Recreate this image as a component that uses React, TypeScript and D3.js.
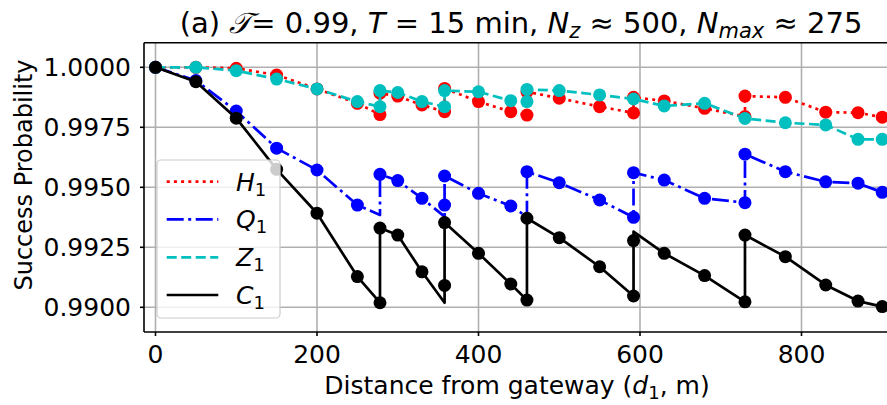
import React from "react";
import * as d3 from "d3";

// [distance d1 (m), success probability, 1 = marker drawn / 0 = line vertex only]
const h1Points: [number, number, number][] = [
  [0, 1.0, 1], [50, 1.0, 1], [100, 0.99996, 1], [150, 0.99968, 1], [200, 0.9991, 1],
  [250, 0.9985, 1], [278, 0.99803, 1], [278, 0.99892, 1], [300, 0.9988, 1], [330, 0.99843, 1],
  [358, 0.99815, 1], [358, 0.99912, 1], [400, 0.99857, 1], [440, 0.99815, 1], [460, 0.99801, 1],
  [460, 0.99898, 1], [500, 0.99871, 1], [550, 0.99836, 1], [592, 0.9981, 1], [592, 0.99875, 1],
  [630, 0.9986, 1], [680, 0.99829, 1], [730, 0.99795, 1], [730, 0.9988, 1], [780, 0.99875, 1],
  [830, 0.99813, 1], [870, 0.99811, 1], [900, 0.99792, 1],
];
const q1Points: [number, number, number][] = [
  [0, 1.0, 1], [50, 0.99945, 1], [100, 0.99818, 1], [150, 0.99663, 1], [200, 0.99572, 1],
  [250, 0.99426, 1], [278, 0.99385, 0], [278, 0.99554, 1], [300, 0.99528, 1], [330, 0.99454, 1],
  [358, 0.99378, 0], [358, 0.99426, 1], [358, 0.99547, 1], [400, 0.99475, 1], [440, 0.99422, 1],
  [460, 0.99378, 0], [460, 0.99565, 1], [500, 0.99519, 1], [550, 0.99447, 1], [592, 0.99375, 1],
  [592, 0.99561, 1], [630, 0.9953, 1], [680, 0.99454, 1], [730, 0.99436, 1], [730, 0.99638, 1],
  [780, 0.99565, 1], [830, 0.99523, 1], [870, 0.99517, 1], [900, 0.99479, 1],
];
const z1Points: [number, number, number][] = [
  [0, 1.0, 1], [50, 1.0, 1], [100, 0.99986, 1], [150, 0.99951, 1], [200, 0.9991, 1],
  [250, 0.99857, 1], [278, 0.99836, 1], [278, 0.99903, 1], [300, 0.99895, 1], [330, 0.99857, 1],
  [358, 0.99836, 1], [358, 0.99903, 1], [400, 0.99898, 1], [440, 0.99861, 1], [460, 0.99857, 1],
  [460, 0.99908, 1], [500, 0.99903, 1], [550, 0.99885, 1], [592, 0.99868, 1], [630, 0.99839, 1],
  [680, 0.9985, 1], [730, 0.99787, 1], [780, 0.99769, 1], [830, 0.9976, 1], [870, 0.997, 1],
  [900, 0.997, 1],
];
const c1Points: [number, number, number][] = [
  [0, 1.0, 1], [50, 0.9994, 1], [100, 0.99788, 1], [150, 0.99575, 1], [200, 0.99392, 1],
  [250, 0.99128, 1], [278, 0.99019, 1], [278, 0.9933, 1], [300, 0.99301, 1], [330, 0.99148, 1],
  [358, 0.99019, 0], [358, 0.99091, 1], [358, 0.99353, 1], [400, 0.99225, 1], [440, 0.99097, 1],
  [460, 0.9903, 1], [460, 0.99371, 1], [500, 0.9929, 1], [550, 0.99169, 1], [592, 0.99047, 1],
  [592, 0.99278, 1], [592, 0.99315, 0], [630, 0.99225, 1], [680, 0.99132, 1], [730, 0.99023, 1],
  [730, 0.99301, 1], [780, 0.99211, 1], [830, 0.99093, 1], [870, 0.99026, 1], [900, 0.99003, 1],
];

const seriesLetters = ["H", "Q", "Z", "C"];
const xTicks = [0, 200, 400, 600, 800];
const yTicks = [0.99, 0.9925, 0.995, 0.9975, 1.0];

const FONT = "DejaVu Sans";

export default function App() {
  const W = 887, H = 405;
  const left = 144, right = 887, top = 42.7, bottom = 332;
  const x = d3.scaleLinear().domain([0, 900]).range([155.5, 882.25]);
  const y = d3.scaleLinear().domain([0.99, 1.0]).range([307.3, 67.3]);
  const line = d3.line<[number, number, number]>().x((d) => x(d[0])).y((d) => y(d[1]));

  const series = [
    { pts: h1Points, color: "#ff0000", dash: "3,4.2", lw: 2.7 },
    { pts: q1Points, color: "#0000ff", dash: "17,4.5,3,4.5", lw: 2.7 },
    { pts: z1Points, color: "#00bfbf", dash: "10,4.5", lw: 2.7 },
    { pts: c1Points, color: "#000000", dash: "none", lw: 2.7 },
  ];

  const legendY = [181.7, 219.3, 257.3, 295];
  const FS = 25;

  return (
    <svg width={W} height={H} style={{ position: "absolute", left: 0, top: 0, background: "#fff" }} fontFamily={FONT}>
      <defs>
        <clipPath id="plot">
          <rect x={left} y={top} width={right - left} height={bottom - top} />
        </clipPath>
      </defs>
      <rect x={0} y={0} width={W} height={H} fill="#fff" />
      {/* grid */}
      <g stroke="#b0b0b0" strokeWidth={1.6}>
        {xTicks.map((t) => (
          <line key={"gx" + t} x1={x(t)} x2={x(t)} y1={top} y2={bottom} />
        ))}
        {yTicks.map((t) => (
          <line key={"gy" + t} x1={left} x2={right} y1={y(t)} y2={y(t)} />
        ))}
      </g>
      {/* series */}
      <g clipPath="url(#plot)">
        {series.map((s, i) => (
          <g key={"s" + i}>
            <path d={line(s.pts) || ""} fill="none" stroke={s.color} strokeWidth={s.lw}
              strokeDasharray={s.dash} strokeLinejoin="round" />
            {s.pts.filter((p) => p[2] === 1).map((p, j) => (
              <circle key={j} cx={x(p[0])} cy={y(p[1])} r={6.5} fill={s.color} />
            ))}
          </g>
        ))}
      </g>
      {/* spines */}
      <g stroke="#000" strokeWidth={1.6} fill="none">
        <line x1={left} x2={left} y1={top} y2={bottom} />
        <line x1={left} x2={right} y1={bottom} y2={bottom} />
        <line x1={left} x2={right} y1={top} y2={top} />
      </g>
      {/* y ticks */}
      {yTicks.map((t) => (
        <g key={"yt" + t}>
          <line x1={left - 4} x2={left} y1={y(t)} y2={y(t)} stroke="#000" strokeWidth={1.6} />
          <text x={left - 13} y={y(t)} dy="0.36em" textAnchor="end" fontSize={FS}>
            {t.toFixed(4)}
          </text>
        </g>
      ))}
      {/* x ticks */}
      {xTicks.map((t) => (
        <g key={"xt" + t}>
          <line x1={x(t)} x2={x(t)} y1={bottom} y2={bottom + 4} stroke="#000" strokeWidth={1.6} />
          <text x={x(t)} y={363} textAnchor="middle" fontSize={FS}>
            {t}
          </text>
        </g>
      ))}
      {/* axis labels */}
      <text x={517} y={394} textAnchor="middle" fontSize={FS}>
        Distance from gateway (<tspan fontStyle="italic">d</tspan>
        <tspan fontSize={18} dy={5}>1</tspan>
        <tspan dy={-5}>, m)</tspan>
      </text>
      <text transform="translate(32,175) rotate(-90)" textAnchor="middle" fontSize={24}>
        Success Probability
      </text>
      {/* title */}
      <text x={521} y={33} textAnchor="middle" fontSize={29}>
        (a) <tspan fontStyle="italic">𝒯</tspan>
        <tspan>= 0.99, </tspan>
        <tspan fontStyle="italic">T</tspan>
        <tspan> = 15 min, </tspan>
        <tspan fontStyle="italic">N</tspan>
        <tspan fontSize={21} fontStyle="italic" dy={5}>z</tspan>
        <tspan dy={-5}> ≈ 500, </tspan>
        <tspan fontStyle="italic">N</tspan>
        <tspan fontSize={21} fontStyle="italic" dy={5}>max</tspan>
        <tspan dy={-5}> ≈ 275</tspan>
      </text>
      {/* legend */}
      <g>
        <rect x={157} y={160} width={123} height={158} rx={4} fill="#fff" fillOpacity={0.8}
          stroke="#cccccc" strokeWidth={1.2} />
        {series.map((s, i) => (
          <g key={"lg" + i}>
            <line x1={166.7} x2={218.3} y1={legendY[i]} y2={legendY[i]} stroke={s.color}
              strokeWidth={s.lw} strokeDasharray={s.dash} />
            <text x={236} y={legendY[i]} dy="0.36em" fontSize={FS}>
              <tspan fontStyle="italic">{seriesLetters[i]}</tspan>
              <tspan fontSize={18} dy={5}>1</tspan>
            </text>
          </g>
        ))}
      </g>
    </svg>
  );
}
